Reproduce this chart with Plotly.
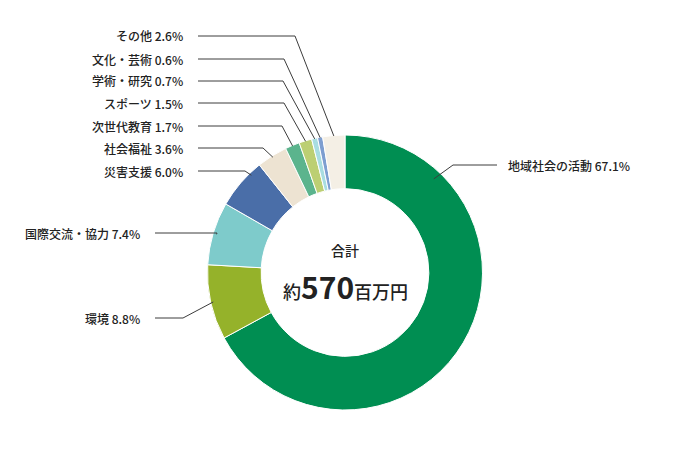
import math
import plotly.graph_objects as go

W, H = 690, 450

# data
categories = ['地域社会の活動', '環境', '国際交流・協力', '災害支援', '社会福祉',
              '次世代教育', 'スポーツ', '学術・研究', '文化・芸術', 'その他']
shares = [67.1, 8.8, 7.4, 6.0, 3.6, 1.7, 1.5, 0.7, 0.6, 2.6]
colors = ['#008E52', '#95B22A', '#7ECBCB', '#4A6EA8', '#EDE3D2',
          '#5BB48D', '#BCCF73', '#A8DDE1', '#7D9ED0', '#F4EFE5']
total_label = '合計'
total_value = '570'

# pie placement in pixels
cx, cy, R = 345, 272.5, 137.5

# leader line layout (pixels): label y, elbow x, line start x, where in the slice the line points
label_y = [165, 318, 233, 171, 148, 126, 103, 81, 59, 36]
elbow_x = [453, 183, 217, 245, 263, 282, 284, 283, 284, 295]
start_x = [497, 155, 155, 198, 198, 198, 198, 198, 198, 198]
text_x = [506, 142, 142, 185, 185, 185, 185, 185, 185, 185]
anchor_pos = [0.18, 0.5, 0.5, 0.75, 0.5, 0.5, 0.5, 0.5, 0.5, 0.5]
anchor_r = [129, 135, 134, 135, 136, 137, 137, 137, 137, 137]


def px(x, y):
    return x / W, 1 - y / H


fig = go.Figure(go.Pie(
    labels=categories, values=shares, sort=False, direction='clockwise',
    rotation=0, hole=0.61, marker=dict(colors=colors, line=dict(color='white', width=1)),
    textinfo='none', hoverinfo='label+percent', showlegend=False,
    domain=dict(x=[(cx - R) / W, (cx + R) / W], y=[1 - (cy + R) / H, 1 - (cy - R) / H]),
))

annotations = []
shapes = []
cum = 0
for i, (name, v) in enumerate(zip(categories, shares)):
    ang = (cum + v * anchor_pos[i]) / 100 * 2 * math.pi
    cum += v
    ex = cx + anchor_r[i] * math.sin(ang)
    ey = cy - anchor_r[i] * math.cos(ang)
    x0, y0 = px(start_x[i], label_y[i])
    x1, y1 = px(elbow_x[i], label_y[i])
    x2, y2 = px(ex, ey)
    shapes.append(dict(type='path', xref='paper', yref='paper',
                       path=f'M {x0} {y0} L {x1} {y1} L {x2} {y2}',
                       line=dict(color='#3c3c3c', width=1)))
    tx, ty = px(text_x[i], label_y[i])
    annotations.append(dict(
        x=tx, y=ty, xref='paper', yref='paper', showarrow=False,
        text=f'{name} {v:.1f}%', xanchor='left' if i == 0 else 'right', yanchor='middle',
        font=dict(size=12, color='#222222', weight=500),
    ))

annotations.append(dict(x=px(cx, 250)[0], y=px(cx, 250)[1], xref='paper', yref='paper',
                        showarrow=False, text=total_label,
                        font=dict(size=14, color='#222222', weight=500)))
annotations.append(dict(x=px(cx, 286)[0], y=px(cx, 286)[1], xref='paper', yref='paper',
                        showarrow=False,
                        text=f'約<b><span style="font-size:30px">{total_value}</span></b>百万円',
                        font=dict(size=18, color='#222222', weight=500)))

fig.update_layout(
    width=W, height=H, margin=dict(l=0, r=0, t=0, b=0),
    paper_bgcolor='white', plot_bgcolor='white',
    font=dict(family='Noto Sans CJK JP', color='#222222'),
    shapes=shapes, annotations=annotations,
)

# the page's default body margin would push the chart 8px off
fig.write_html('out.html', config={'displayModeBar': False},
               post_script="document.body.style.margin='0';")
